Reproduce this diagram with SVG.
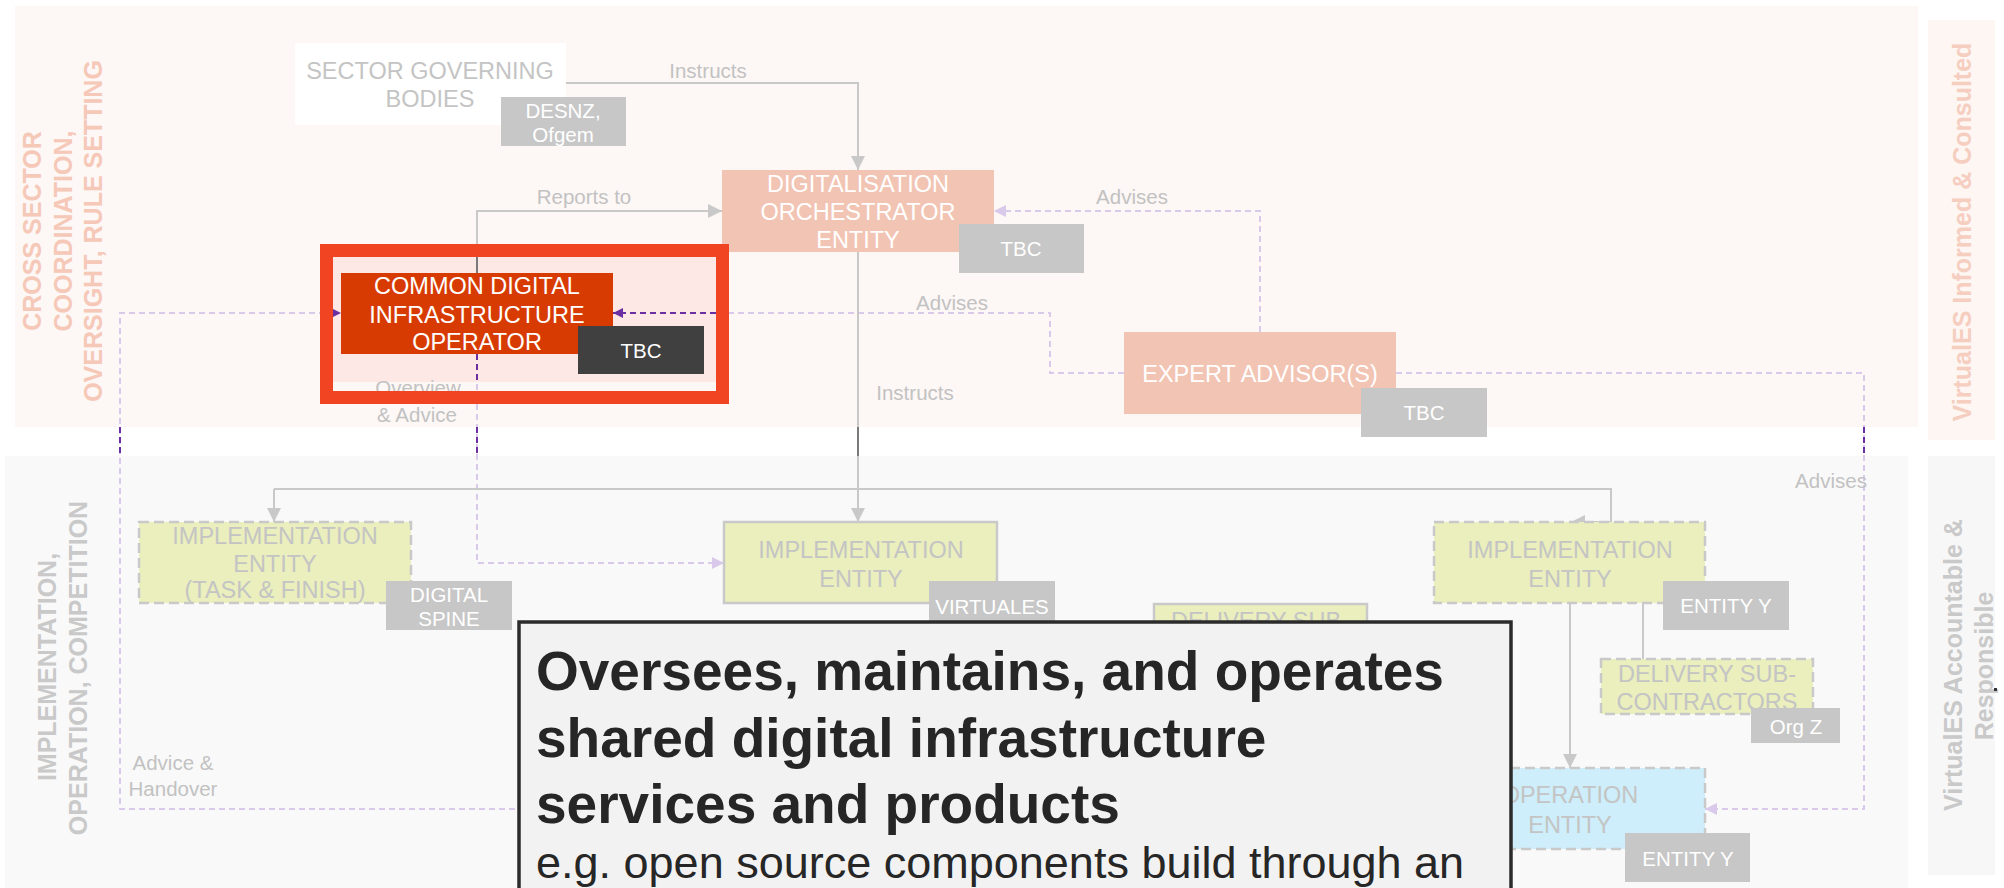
<svg xmlns="http://www.w3.org/2000/svg" width="2004" height="888" viewBox="0 0 2004 888">
<defs>
<style>
text{font-family:"Liberation Sans",Arial,sans-serif}
.nt{font-size:23.5px;text-anchor:middle}
.w{fill:#ffffff}
.g{fill:#c4c4c4}
.tg{font-size:20.5px;fill:#ffffff;text-anchor:middle}
.lb{font-size:20.5px;fill:#c2c2c2;text-anchor:middle}
.tag{fill:#c7c7c7}
.band{font-size:25px;font-weight:bold;text-anchor:middle}
.cg{fill:none;stroke:#c9c9c9;stroke-width:2}
.cgd{fill:none;stroke:#7a7a7a;stroke-width:2}
.cp{fill:none;stroke:#d9c9ea;stroke-width:2;stroke-dasharray:6 4}
.cd{fill:none;stroke:#6b2fa3;stroke-width:2;stroke-dasharray:6 4}
.yl{fill:#eaefbd;stroke:#c9c9c9;stroke-width:2.5}
.dash{stroke-dasharray:10 5}
.sal{fill:#f2c4b3}
</style>
<marker id="ag" viewBox="0 0 14 14" refX="14" refY="7" markerWidth="14" markerHeight="14" markerUnits="userSpaceOnUse" orient="auto"><path d="M0,0 L14,7 L0,14 Z" fill="#c9c9c9"/></marker>
<marker id="ap" viewBox="0 0 12 12" refX="12" refY="6" markerWidth="12" markerHeight="12" markerUnits="userSpaceOnUse" orient="auto"><path d="M0,0 L12,6 L0,12 Z" fill="#d9c9ea"/></marker>
<marker id="ad" viewBox="0 0 10 10" refX="10" refY="5" markerWidth="10" markerHeight="10" markerUnits="userSpaceOnUse" orient="auto"><path d="M0,0 L10,5 L0,10 Z" fill="#6b2fa3"/></marker>
</defs>

<rect x="0" y="0" width="2004" height="888" fill="#ffffff"/>

<g id="bands">
  <rect x="15" y="6" width="1903" height="421" fill="#fdf7f5"/>
  <rect x="330" y="6" width="400" height="421" fill="#fdf8f6"/>
  <rect x="5" y="456" width="1903" height="432" fill="#f9f9f9"/>
  <rect x="1928" y="20" width="67" height="420" fill="#fdf6f3"/>
  <rect x="1928" y="456" width="67" height="419" fill="#f7f7f7"/>
  <rect x="333" y="257" width="383" height="125" fill="#fde8e6"/>
  <text class="band" transform="translate(41,231) rotate(-90)" fill="#f5c8b8">CROSS SECTOR</text>
  <text class="band" transform="translate(72,231) rotate(-90)" fill="#f5c8b8">COORDINATION,</text>
  <text class="band" transform="translate(102,231) rotate(-90)" fill="#f5c8b8">OVERSIGHT, RULE SETTING</text>
  <text class="band" transform="translate(56,667) rotate(-90)" fill="#c9c9c9">IMPLEMENTATION,</text>
  <text class="band" transform="translate(87,668) rotate(-90)" fill="#c9c9c9">OPERATION, COMPETITION</text>
  <text class="band" transform="translate(1971,232) rotate(-90)" fill="#f6cec0">VirtualES Informed &amp; Consulted</text>
  <text class="band" transform="translate(1962,665) rotate(-90)" fill="#c9c9c9">VirtualES Accountable &amp;</text>
  <text class="band" transform="translate(1993,666) rotate(-90)" fill="#c9c9c9">Responsible</text>
  <rect x="1994" y="688" width="3" height="3" fill="#333333"/>
</g>

<g id="connectors">
  <path class="cg" d="M566,83 H858 V170" marker-end="url(#ag)"/>
  <path class="cg" d="M477,273 V211 H722" marker-end="url(#ag)"/>
  <path class="cgd" d="M477,273 V257"/>
  <path class="cp" d="M1260,332 V211 H994" marker-end="url(#ap)"/>
  <path class="cp" d="M1124,373 H1050 V313 H716"/>
  <path class="cd" d="M716,313 H613" marker-end="url(#ad)"/>
  <path class="cp" d="M1435,809 H120 V313 H333"/>
  <path class="cd" d="M333,313 H341" marker-end="url(#ad)"/>
  <path class="cp" d="M477,354 V563 H724" marker-end="url(#ap)"/>
  <path class="cd" d="M477,354 V382"/>
  <path class="cg" d="M858,252 V522" marker-end="url(#ag)"/>
  <path class="cg" d="M274,489 H1611 V522 H1571" marker-end="url(#ag)"/>
  <path class="cg" d="M274,489 V522" marker-end="url(#ag)"/>
  <path class="cg" d="M1643,603 V687 H1602" marker-end="url(#ag)"/>
  <path class="cg" d="M1570,603 V768" marker-end="url(#ag)"/>
  <path class="cp" d="M1396,373 H1864 V809 H1705" marker-end="url(#ap)"/>
  <path class="cd" d="M120,427 V456"/>
  <path class="cd" d="M477,427 V456"/>
  <path class="cgd" d="M858,427 V456"/>
  <path class="cd" d="M1864,427 V456"/>
  <g id="labels">
    <text class="lb" x="708" y="78">Instructs</text>
    <text class="lb" x="584" y="204">Reports to</text>
    <text class="lb" x="1132" y="204">Advises</text>
    <text class="lb" x="952" y="310">Advises</text>
    <text class="lb" x="915" y="400">Instructs</text>
    <text class="lb" x="418" y="395">Overview</text>
    <text class="lb" x="417" y="422">&amp; Advice</text>
    <text class="lb" x="173" y="770">Advice &amp;</text>
    <text class="lb" x="173" y="796">Handover</text>
    <text class="lb" x="1831" y="488">Advises</text>
  </g>
</g>

<g id="sector-governing-bodies">
  <rect x="295" y="43" width="271" height="82" fill="#ffffff"/>
  <text class="nt g" x="430" y="79">SECTOR GOVERNING</text>
  <text class="nt g" x="430" y="107">BODIES</text>
</g>
<g id="tag-desnz">
  <rect class="tag" x="501" y="97" width="125" height="49"/>
  <text class="tg" x="563" y="118">DESNZ,</text>
  <text class="tg" x="563" y="142">Ofgem</text>
</g>

<g id="digitalisation-orchestrator">
  <rect class="sal" x="722" y="170" width="272" height="82"/>
  <text class="nt w" x="858" y="192">DIGITALISATION</text>
  <text class="nt w" x="858" y="220">ORCHESTRATOR</text>
  <text class="nt w" x="858" y="248">ENTITY</text>
</g>
<g id="tag-doe">
  <rect class="tag" x="959" y="224" width="125" height="49"/>
  <text class="tg" x="1021" y="256">TBC</text>
</g>

<g id="common-digital-infrastructure-operator">
  <rect x="341" y="273" width="272" height="81" fill="#d83b01"/>
  <text class="nt w" x="477" y="294">COMMON DIGITAL</text>
  <text class="nt w" x="477" y="323">INFRASTRUCTURE</text>
  <text class="nt w" x="477" y="350">OPERATOR</text>
</g>
<g id="tag-cdio">
  <rect x="578" y="326" width="126" height="48" fill="#404040"/>
  <text class="tg" x="641" y="358">TBC</text>
</g>

<g id="expert-advisors">
  <rect class="sal" x="1124" y="332" width="272" height="82"/>
  <text class="nt w" x="1260" y="382">EXPERT ADVISOR(S)</text>
</g>
<g id="tag-ea">
  <rect class="tag" x="1361" y="388" width="126" height="49"/>
  <text class="tg" x="1424" y="420">TBC</text>
</g>

<g id="impl-task-finish">
  <rect class="yl dash" x="139" y="522" width="272" height="81"/>
  <text class="nt g" x="275" y="544">IMPLEMENTATION</text>
  <text class="nt g" x="275" y="572">ENTITY</text>
  <text class="nt g" x="275" y="598">(TASK &amp; FINISH)</text>
</g>
<g id="tag-spine">
  <rect class="tag" x="386" y="581" width="126" height="49"/>
  <text class="tg" x="449" y="602">DIGITAL</text>
  <text class="tg" x="449" y="626">SPINE</text>
</g>

<g id="impl-virtuales">
  <rect class="yl" x="724" y="522" width="273" height="81"/>
  <text class="nt g" x="861" y="558">IMPLEMENTATION</text>
  <text class="nt g" x="861" y="587">ENTITY</text>
</g>
<g id="tag-virtuales">
  <rect class="tag" x="929" y="581" width="126" height="49"/>
  <text class="tg" x="992" y="614">VIRTUALES</text>
</g>

<g id="delivery-sub-middle">
  <rect class="yl" x="1154" y="604" width="213" height="60"/>
  <text class="nt g" x="1260" y="629">DELIVERY SUB-</text>
</g>

<g id="impl-entity-y">
  <rect class="yl dash" x="1434" y="522" width="271" height="81"/>
  <text class="nt g" x="1570" y="558">IMPLEMENTATION</text>
  <text class="nt g" x="1570" y="587">ENTITY</text>
</g>
<g id="tag-entity-y1">
  <rect class="tag" x="1663" y="581" width="126" height="49"/>
  <text class="tg" x="1726" y="613">ENTITY Y</text>
</g>

<g id="delivery-sub-right">
  <rect class="yl dash" x="1601" y="659" width="212" height="55"/>
  <text class="nt g" x="1707" y="682">DELIVERY SUB-</text>
  <text class="nt g" x="1707" y="710">CONTRACTORS</text>
</g>
<g id="tag-orgz">
  <rect class="tag" x="1751" y="708" width="89" height="35"/>
  <text class="tg" x="1796" y="734">Org Z</text>
</g>

<g id="operation-entity">
  <rect x="1435" y="768" width="270" height="81" fill="#cdeefa" stroke="#c9c9c9" stroke-width="2.5" stroke-dasharray="10 5"/>
  <text class="nt g" x="1570" y="803">OPERATION</text>
  <text class="nt g" x="1570" y="833">ENTITY</text>
</g>
<g id="tag-entity-y2">
  <rect class="tag" x="1625" y="833" width="125" height="49"/>
  <text class="tg" x="1688" y="866">ENTITY Y</text>
</g>

<g id="highlight">
  <rect x="326.5" y="250.5" width="396" height="147" fill="none" stroke="#f04423" stroke-width="13"/>
</g>

<g id="callout">
  <rect x="519" y="622" width="992" height="290" fill="#f2f2f2" stroke="#2b2b2b" stroke-width="3.5"/>
  <text x="536" y="690" font-size="55" font-weight="bold" fill="#262626">Oversees, maintains, and operates</text>
  <text x="536" y="757" font-size="55" font-weight="bold" fill="#262626">shared digital infrastructure</text>
  <text x="536" y="823" font-size="55" font-weight="bold" fill="#262626">services and products</text>
  <text x="536" y="878" font-size="45" fill="#262626">e.g. open source components build through an</text>
</g>
</svg>
